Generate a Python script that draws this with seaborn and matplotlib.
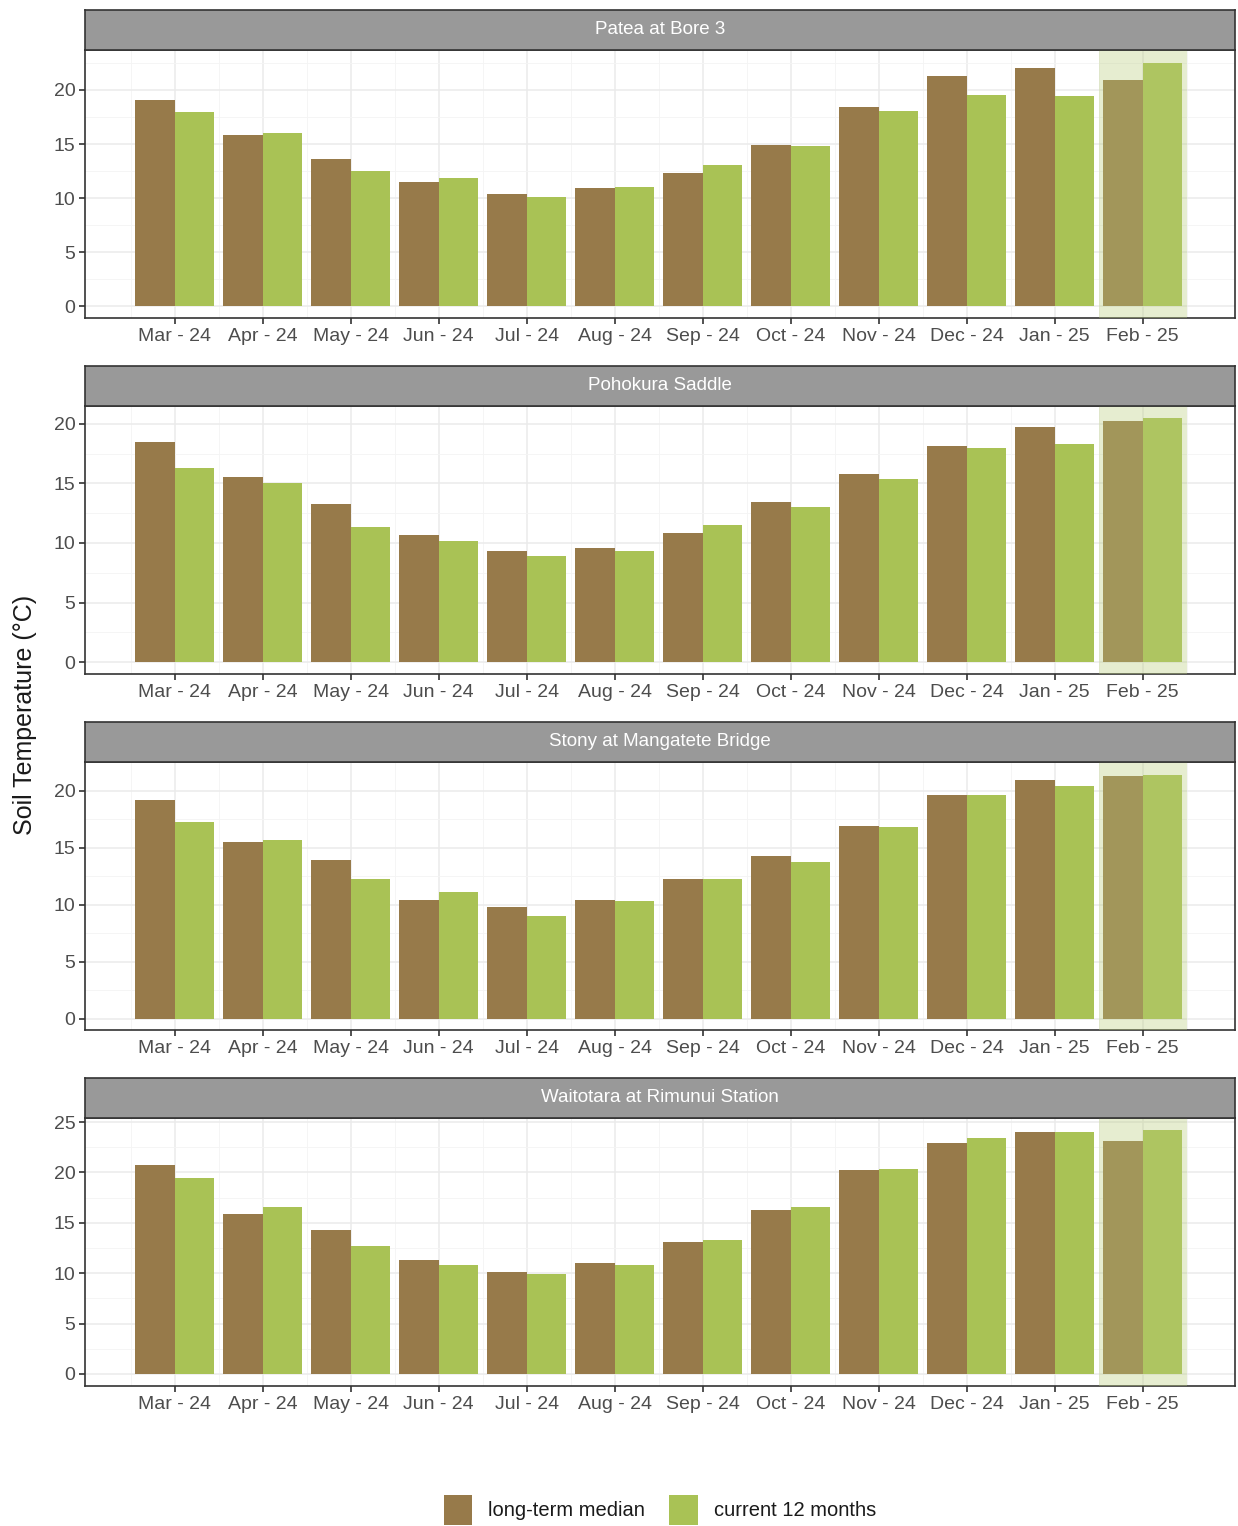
import numpy as np
import pandas as pd
import matplotlib
matplotlib.use("Agg")
import matplotlib.pyplot as plt
import seaborn as sns

# =====================================
# DATA
# =====================================

months = ["Mar - 24", "Apr - 24", "May - 24", "Jun - 24", "Jul - 24", "Aug - 24",
          "Sep - 24", "Oct - 24", "Nov - 24", "Dec - 24", "Jan - 25", "Feb - 25"]

sites = ["Patea at Bore 3", "Pohokura Saddle",
         "Stony at Mangatete Bridge", "Waitotara at Rimunui Station"]

median_patea = [19.1, 15.8, 13.6, 11.5, 10.4, 10.9, 12.3, 14.9, 18.4, 21.3, 22.0, 20.9]
current_patea = [18.0, 16.0, 12.5, 11.9, 10.1, 11.0, 13.1, 14.8, 18.1, 19.5, 19.4, 22.5]

median_pohokura = [18.5, 15.5, 13.3, 10.7, 9.3, 9.6, 10.8, 13.4, 15.8, 18.1, 19.7, 20.2]
current_pohokura = [16.3, 15.0, 11.3, 10.2, 8.9, 9.3, 11.5, 13.0, 15.4, 18.0, 18.3, 20.5]

median_stony = [19.2, 15.5, 13.9, 10.4, 9.8, 10.4, 12.2, 14.3, 16.9, 19.6, 20.9, 21.3]
current_stony = [17.2, 15.7, 12.2, 11.1, 9.0, 10.3, 12.2, 13.7, 16.8, 19.6, 20.4, 21.4]

median_waitotara = [20.7, 15.9, 14.3, 11.3, 10.1, 11.0, 13.1, 16.3, 20.2, 22.9, 24.0, 23.1]
current_waitotara = [19.4, 16.6, 12.7, 10.8, 9.9, 10.8, 13.3, 16.6, 20.3, 23.4, 24.0, 24.2]

medians = [median_patea, median_pohokura, median_stony, median_waitotara]
currents = [current_patea, current_pohokura, current_stony, current_waitotara]

series = ["long-term median", "current 12 months"]
colors = ["#977a4a", "#a9c255"]

# =====================================
# LAYOUT (pixels)
# =====================================

W, H = 1238, 1526
panel_tops = [50, 406, 762, 1118]
panel_h = 268
strip_h = 40
left, right = 85, 1235
ylims = [(-1.1, 23.7), (-1.0, 21.5), (-1.0, 22.5), (-1.2, 25.4)]

sns.set_theme(style="whitegrid")
plt.rcParams["font.family"] = ["Liberation Sans", "DejaVu Sans"]

fig = plt.figure(figsize=(W / 100, H / 100), dpi=100)

for i, site in enumerate(sites):
    top = panel_tops[i]
    ax = fig.add_axes([left / W, 1 - (top + panel_h) / H,
                       (right - left) / W, panel_h / H])
    df = pd.DataFrame({
        "month": months * 2,
        "value": medians[i] + currents[i],
        "series": [series[0]] * 12 + [series[1]] * 12,
    })
    sns.barplot(data=df, x="month", y="value", hue="series",
                palette=colors, width=0.9, saturation=1,
                ax=ax, legend=(i == 0), zorder=3)
    for p in ax.patches:
        p.set_edgecolor("none")

    # highlight the latest month
    ax.axvspan(10.5, 11.5, facecolor="#b8cc7a", alpha=0.35,
               edgecolor="none", zorder=4)

    ax.set_yticks(np.arange(0, ylims[i][1], 5))
    ax.set_yticks(np.arange(2.5, ylims[i][1], 5), minor=True)
    ax.set_xticks(np.arange(-0.5, 12.6, 1), minor=True)
    ax.set_xlim(-1.02, 12.05)
    ax.set_ylim(*ylims[i])
    ax.grid(which="major", color="#ebebeb", lw=1.1, zorder=0)
    ax.grid(which="minor", color="#f4f4f4", lw=0.6, zorder=0)
    ax.set_axisbelow(True)
    ax.set_facecolor("white")
    for s in ax.spines.values():
        s.set_color("#333333")
        s.set_linewidth(1.2)
    ax.tick_params(which="major", direction="out", length=4, width=1.2,
                   color="#333333", labelsize=14, labelcolor="#4d4d4d",
                   bottom=True, left=True, pad=3)
    ax.tick_params(which="minor", length=0)
    ax.set_xlabel("")
    ax.set_ylabel("")

    # facet strip
    sax = fig.add_axes([left / W, 1 - top / H, (right - left) / W, strip_h / H])
    sax.set_xticks([])
    sax.set_yticks([])
    sax.set_facecolor("#999999")
    for s in sax.spines.values():
        s.set_color("#333333")
        s.set_linewidth(1.2)
    sax.text(0.5, 0.5, site, ha="center", va="center", color="white",
             fontsize=13.5, transform=sax.transAxes)

    if i == 0:
        handles, labels = ax.get_legend_handles_labels()
        ax.get_legend().remove()

fig.legend(handles, labels, loc="center", bbox_to_anchor=(660 / W, 1 - 1510 / H),
           ncol=2, frameon=False, fontsize=14.5, handlelength=1.4, handleheight=1.9,
           columnspacing=1.2, handletextpad=0.8, labelcolor="#1a1a1a")

fig.text(25 / W, 1 - 715 / H, "Soil Temperature (°C)", rotation=90,
         ha="center", va="center", fontsize=18, color="#1a1a1a")

fig.savefig("out.png", dpi=100)
plt.close()
